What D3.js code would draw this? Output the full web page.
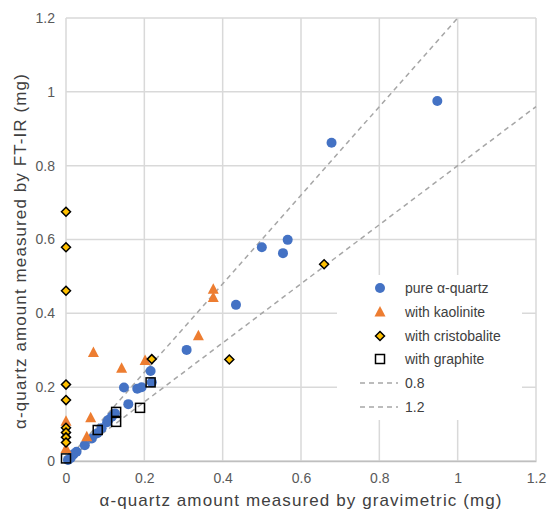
<!DOCTYPE html>
<html><head><meta charset="utf-8">
<script src="https://cdn.jsdelivr.net/npm/d3@7"></script>
<style>body{margin:0;background:#fff}svg{display:block;font-family:"Liberation Sans",Arial,sans-serif}</style>
</head><body>
<svg id="c" width="548" height="512"></svg>
<script>
const xTicks = [0, 0.2, 0.4, 0.6, 0.8, 1, 1.2];
const yTicks = [0, 0.2, 0.4, 0.6, 0.8, 1, 1.2];
const seriesNames = ["pure α-quartz", "with kaolinite", "with cristobalite", "with graphite"];
const pureX = [0.005,0.012,0.019,0.027,0.048,0.066,0.080,0.091,0.105,0.108,0.117,0.125,0.148,0.159,0.182,0.193,0.216,0.219,0.308,0.434,0.500,0.554,0.566,0.678,0.948];
const pureY = [0.003,0.008,0.018,0.025,0.043,0.061,0.075,0.089,0.105,0.111,0.120,0.129,0.199,0.154,0.196,0.200,0.244,0.213,0.301,0.423,0.579,0.563,0.599,0.862,0.975];
const kaolX = [0.0,0.0,0.053,0.063,0.070,0.142,0.202,0.338,0.376,0.376];
const kaolY = [0.034,0.108,0.066,0.117,0.294,0.251,0.272,0.339,0.443,0.465];
const cristX = [0,0,0,0,0,0,0,0,0,0.219,0.417,0.659];
const cristY = [0.675,0.579,0.461,0.207,0.165,0.090,0.077,0.064,0.050,0.276,0.275,0.533];
const graphX = [0.0,0.081,0.128,0.128,0.189,0.216];
const graphY = [0.007,0.084,0.133,0.106,0.144,0.213];
const ratioNames = ["0.8", "1.2"];
const ratioSlopes = [1.2, 0.8];

const svg = d3.select("#c");
const x = d3.scaleLinear().domain([0,1.2]).range([66,536]);
const y = d3.scaleLinear().domain([0,1.2]).range([461,18]);
const grid = "#d9d9d9";

// gridlines
svg.append("g").selectAll("line").data(xTicks).join("line")
  .attr("x1",d=>x(d)).attr("x2",d=>x(d)).attr("y1",y(0)).attr("y2",y(1.2))
  .attr("stroke",grid).attr("stroke-width",1.5);
svg.append("g").selectAll("line").data(yTicks).join("line")
  .attr("x1",x(0)).attr("x2",x(1.2)).attr("y1",d=>y(d)).attr("y2",d=>y(d))
  .attr("stroke",grid).attr("stroke-width",1.5);

// axes
const fmt = d=>String(+d.toFixed(1));
const xa = svg.append("g").attr("transform",`translate(0,${y(0)})`)
  .call(d3.axisBottom(x).tickValues(xTicks).tickFormat(fmt).tickSize(0).tickPadding(12));
xa.select(".domain").attr("stroke","#bfbfbf").attr("stroke-width",1.5);
xa.selectAll("text").attr("fill","#595959").style("font-size","14px").style("font-family","Liberation Sans, Arial, sans-serif");
const ya = svg.append("g").attr("transform",`translate(${x(0)},0)`)
  .call(d3.axisLeft(y).tickValues(yTicks).tickFormat(fmt).tickSize(0).tickPadding(11));
ya.select(".domain").remove();
ya.selectAll("text").attr("fill","#595959").style("font-size","14px").style("font-family","Liberation Sans, Arial, sans-serif");

// reference lines
const refG = svg.append("g");
ratioSlopes.forEach(s=>{
  const xe = Math.min(1.2, 1.2/s);
  refG.append("line").attr("x1",x(0)).attr("y1",y(0)).attr("x2",x(xe)).attr("y2",y(xe*s))
    .attr("stroke","#a6a6a6").attr("stroke-width",1.5).attr("stroke-dasharray","5,4");
});

const blue="#4472c4", orange="#ed7d31", yellow="#ffc000";
function drawSeries(xs, ys, drawFn){
  const g = svg.append("g");
  xs.forEach((v,i)=>drawFn(g, x(v), y(ys[i])));
}
const circ = (g,cx,cy)=>g.append("circle").attr("cx",cx).attr("cy",cy).attr("r",5).attr("fill",blue);
const tri = (g,cx,cy)=>g.append("path").attr("d",`M${cx},${cy-6}L${cx+5.5},${cy+4.5}L${cx-5.5},${cy+4.5}Z`).attr("fill",orange);
const dia = (g,cx,cy)=>g.append("path").attr("d",`M${cx},${cy-4.5}L${cx+4.5},${cy}L${cx},${cy+4.5}L${cx-4.5},${cy}Z`).attr("fill",yellow).attr("stroke","#000").attr("stroke-width",1.5);
const sq = (g,cx,cy)=>g.append("rect").attr("x",cx-4.5).attr("y",cy-4.5).attr("width",9).attr("height",9).attr("fill","none").attr("stroke","#000").attr("stroke-width",1.5);

drawSeries(pureX,pureY,circ);
drawSeries(kaolX,kaolY,tri);
drawSeries(cristX,cristY,dia);
drawSeries(graphX,graphY,sq);

// legend
const lg = svg.append("g");
lg.append("rect").attr("x",337).attr("y",275).attr("width",185).attr("height",145).attr("fill","#fff");
const rowY = [288,312,336,359,383,407];
const fns = [circ,tri,dia,sq];
const labels = seriesNames.concat(ratioNames);
labels.forEach((t,i)=>{
  if(i<4){ fns[i](lg,380,rowY[i]); }
  else { lg.append("line").attr("x1",360).attr("x2",398).attr("y1",rowY[i]).attr("y2",rowY[i])
    .attr("stroke","#a6a6a6").attr("stroke-width",1.5).attr("stroke-dasharray","5,4"); }
  lg.append("text").attr("x",405).attr("y",rowY[i]).attr("dy","0.35em")
    .attr("fill","#404040").style("font-size","14px").text(t);
});

// axis titles
svg.append("text").attr("x",x(0.6)).attr("y",506).attr("text-anchor","middle")
  .attr("fill","#404040").style("font-size","17px").style("letter-spacing","1.1px")
  .text("α-quartz amount measured by gravimetric (mg)");
svg.append("text").attr("transform",`translate(26,251) rotate(-90)`).attr("text-anchor","middle")
  .attr("fill","#404040").style("font-size","17px").style("letter-spacing","1.1px")
  .text("α-quartz amount measured by FT-IR (mg)");
</script>
</body></html>
